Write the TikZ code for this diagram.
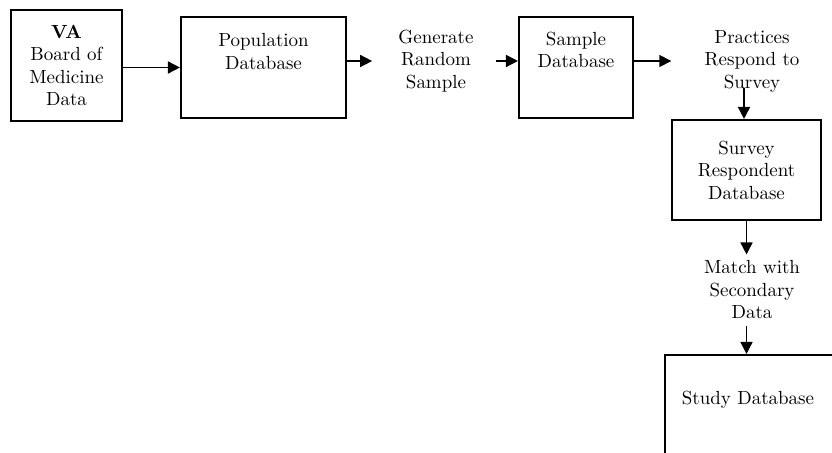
\documentclass[tikz,border=0pt]{standalone}
\usepackage{tikz}
\usetikzlibrary{arrows.meta,positioning,calc}

\begin{document}
\begin{tikzpicture}[
  font=\fontsize{10.8}{12.8}\selectfont,
  box/.style={draw=black, line width=1.2pt, fill=white, align=center, inner sep=0pt},
  steptxt/.style={align=center, inner sep=0pt},
  arr/.style={-{Triangle[length=2.4mm, width=2.4mm]}, line width=0.9pt}]
\clip (0,0) rectangle (16.64,-9.04);
% boxes
\node[box, minimum width=2.22cm, minimum height=2.22cm] (va) at (1.33,-1.31)
  {\textbf{VA}\\Board of\\Medicine\\Data};
\node[box, minimum width=3.3cm, minimum height=2.02cm] (pop) at (5.27,-1.35) {};
\node[box, minimum width=2.28cm, minimum height=2.02cm] (sample) at (11.52,-1.35) {};
\node[box, minimum width=2.98cm, minimum height=2.0cm] (survey) at (14.93,-3.40)
  {Survey\\Respondent\\Database};
\node[box, minimum width=3.6cm, minimum height=3.0cm] (study) at (15.10,-8.60) {};
% texts in the open boxes
\node[steptxt] (poptxt) at (5.27,-1.03) {Population\\Database};
\node[steptxt] (sampletxt) at (11.52,-1.00) {Sample\\Database};
\node[steptxt] (studytxt) at (14.96,-8.00) {Study Database};
% steps between the boxes
\node[steptxt] (gen) at (8.72,-1.22) {Generate\\Random\\Sample};
\node[steptxt] (prac) at (15.04,-1.22) {Practices\\Respond to\\Survey};
\node[steptxt] (match) at (15.04,-5.80) {Match with\\Secondary\\Data};
% arrows
\draw[arr] (va.east |- pop.west) -- (pop.west);
\draw[arr, shorten >=0.52cm] (pop.east |- gen.west) -- (gen.west);
\draw[arr, shorten <=0.44cm] (gen.east) -- (gen.east -| sample.west);
\draw[arr, shorten >=0.66cm] (sample.east |- prac.west) -- (prac.west);
\draw[arr, shorten <=-0.08cm] ([xshift=-0.05cm]survey.north |- prac.south) -- ([xshift=-0.05cm]survey.north);
\draw[arr, shorten >=0.12cm] (survey.south) -- (survey.south |- match.north);
\draw[arr, shorten <=0.12cm] (survey.south |- match.south) -- (survey.south |- study.north);
\end{tikzpicture}
\end{document}
